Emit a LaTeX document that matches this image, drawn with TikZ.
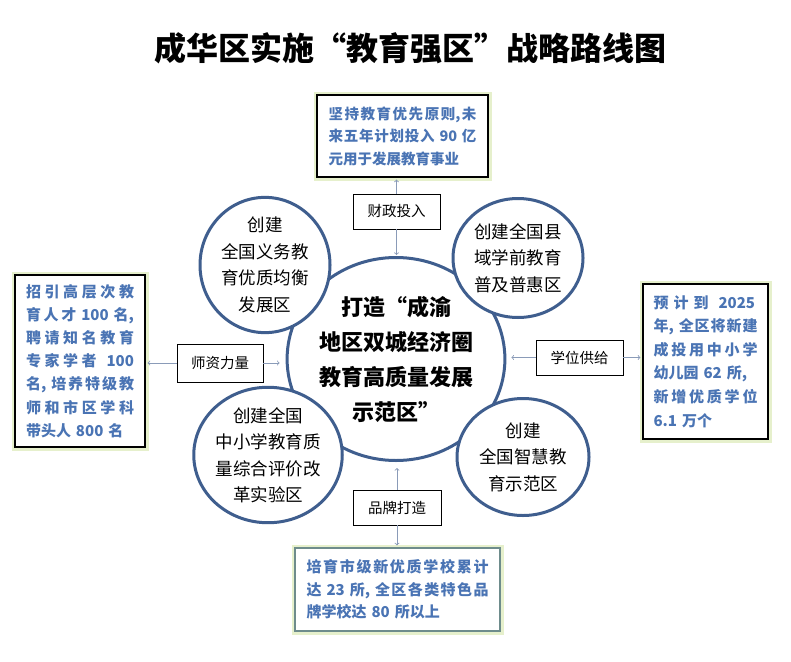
\documentclass[tikz,border=0pt]{standalone}
\usepackage{fontspec}
\setmainfont{Noto Sans CJK SC}
\usepackage{tikz}
\usetikzlibrary{shapes.geometric}
\XeTeXlinebreaklocale "zh"
\XeTeXlinebreakskip=0pt plus 1pt
\definecolor{ringblue}{HTML}{3F5E8E}
\definecolor{inkblue}{HTML}{4A74B4}
\definecolor{linkgray}{HTML}{8A9BB8}
\definecolor{glowgreen}{HTML}{E6F0CC}
\definecolor{boxgray}{HTML}{6E8C8C}
\newcommand{\fullrow}[1]{\parbox[b]{\hsize}{\parfillskip=0pt \XeTeXlinebreakpenalty=10000 #1}}

\begin{document}
\begin{tikzpicture}
  [x=1pt, y=-1pt,
   ring/.style={ellipse, draw=ringblue, line width=3pt, fill=white, inner sep=0pt,
     align=center, font=\fontsize{17.5}{26.5}\selectfont},
   fact box/.style={draw=black, line width=1.2pt, preaction={draw=glowgreen, line width=7pt},
     fill=white, text=inkblue, inner sep=0pt, align=left},
   tag box/.style={draw=black, line width=0.8pt, fill=white, minimum width=87pt,
     minimum height=35pt, font=\fontsize{14.5}{18}\selectfont},
   link/.style={->, draw=linkgray, line width=0.8pt, shorten >=2pt}]
  \useasboundingbox[fill=white] (0,0) rectangle (791,661);
  \node[font=\bfseries\fontsize{32}{36}\selectfont] (title) at (410,48) {成华区实施“教育强区”战略路线图};

  % centre and the four zones
  \node[ring, minimum width=208pt, minimum height=203pt, font=\bfseries\fontsize{22}{35}\selectfont]
    (hub) at (396,359) {打造“成渝\\地区双城经济圈\\教育高质量发展\\示范区”};
  \node[ring, minimum width=130pt, minimum height=117pt] (nw) at (265,265) {创建\\全国义务教\\育优质均衡\\发展区};
  \node[ring, minimum width=130pt, minimum height=119pt] (ne) at (518,258) {创建全国县\\域学前教育\\普及普惠区};
  \node[ring, minimum width=130pt, minimum height=116pt] (sw) at (268,455) {创建全国\\中小学教育质\\量综合评价改\\革实验区};
  \node[ring, minimum width=132pt, minimum height=117pt] (se) at (523,457) {创建\\全国智慧教\\育示范区};

  % measures
  \node[fact box, minimum width=171pt, minimum height=82pt, text width=148pt,
    font=\bfseries\fontsize{14.5}{22.5}\selectfont] (topbox) at (402.5,136)
    {\fullrow{坚持教育优先原则,未}\\\fullrow{来五年计划投入~90~亿}\\元用于发展教育事业};
  \node[fact box, minimum width=130pt, minimum height=172pt, text width=108pt,
    font=\bfseries\fontsize{15}{23.2}\selectfont] (leftbox) at (80,361)
    {\fullrow{招引高层次教}\\\fullrow{育人才~100~名,}\\\fullrow{聘请知名教育}\\\fullrow{专家学者~\ 100}\\
     \fullrow{名,~培养特级教}\\\fullrow{师和市区学科}\\带头人 800 名};
  \node[fact box, minimum width=125pt, minimum height=155pt, text width=104pt,
    font=\bfseries\fontsize{15}{23.6}\selectfont] (rightbox) at (705.5,361.5)
    {\fullrow{预~计~到~\ 2025}\\\fullrow{年,~全区将新建}\\\fullrow{成投用中小学}\\幼儿园 62 所,\\
     \fullrow{新增优质学位}\\6.1 万个};
  \node[fact box, draw=boxgray, minimum width=205pt, minimum height=83pt, text width=182pt,
    font=\bfseries\fontsize{15}{22.5}\selectfont] (bottombox) at (397.5,589.5)
    {\fullrow{培育市级新优质学校累计}\\\fullrow{达~23~所,~全区各类特色品}\\牌学校达 80 所以上};

  % tags
  \node[tag box] (fund) at (396.5,211.5) {财政投入};
  \node[tag box, minimum width=86pt, minimum height=38pt] (teach) at (220,363) {师资力量};
  \node[tag box] (seat) at (579.5,357.5) {学位供给};
  \node[tag box, minimum width=88pt] (brand) at (397,507.5) {品牌打造};

  \draw[link] (fund) -- (fund |- topbox.south);
  \draw[link, shorten >=1pt] (fund) -- (fund |- hub.north);
  \draw[link] (teach) -- (teach -| leftbox.east);
  \draw[link, shorten >=6pt] (teach) -- (teach -| hub.west);
  \draw[link] (seat) -- (seat -| rightbox.west);
  \draw[link, shorten >=5pt] (seat) -- (seat -| hub.east);
  \draw[link] (brand) -- (brand |- bottombox.north);
  \draw[link, shorten >=6pt] (brand) -- (brand |- hub.south);
\end{tikzpicture}
\end{document}
